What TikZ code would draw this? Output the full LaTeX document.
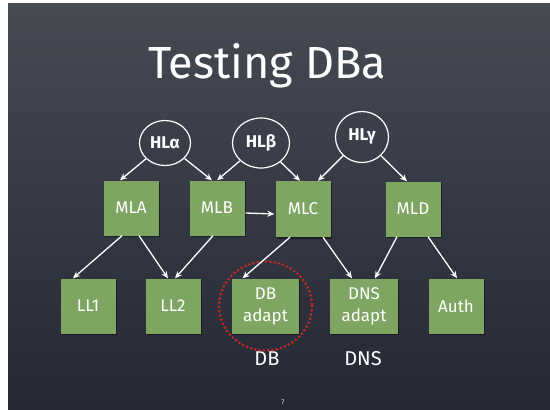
\documentclass[tikz,border=0pt]{standalone}
\usepackage{fontspec}
\setmainfont{Fira Sans}
\usetikzlibrary{shapes.geometric,arrows.meta,shadows}
\definecolor{boxgreen}{RGB}{126,166,98}
\definecolor{chalkred}{RGB}{192,42,36}
\definecolor{boardtop}{RGB}{70,74,83}
\definecolor{boardbot}{RGB}{36,40,52}
\tikzset{
  hl/.style={ellipse, draw=white, line width=1.2pt, text=white, inner sep=0pt, font=\fontsize{17}{17}\selectfont\bfseries},
  box/.style={rectangle, fill=boxgreen, text=white, minimum width=55pt, minimum height=55pt, inner sep=2pt, align=center,
    font=\fontsize{17}{17}\selectfont, drop shadow={shadow xshift=1pt, shadow yshift=-1.5pt, opacity=0.45, fill=black}},
  arr/.style={draw=white, line width=1.3pt, -{Stealth[length=7pt,width=6pt]}},
  lbl/.style={text=white, font=\fontsize{20}{20}\selectfont},
}
\begin{document}
\begin{tikzpicture}[x=1pt,y=-1pt]
\useasboundingbox (0,0) rectangle (550,410);
\shade[top color=boardtop, bottom color=boardbot] (8,3) rectangle (550,410);
\node[text=white, font=\fontsize{45}{45}\selectfont] (title) at (267,66) {Testing DBa};
% high level
\node[hl, minimum width=51pt, minimum height=45pt] (HLa) at (165,143) {HLα};
\node[hl, minimum width=57pt, minimum height=50pt] (HLb) at (261,143) {HLβ};
\node[hl, minimum width=53pt, minimum height=51pt] (HLg) at (362,137) {HLγ};
% mid level
\node[box] (MLA) at (131,208) {MLA};
\node[box] (MLB) at (217,208) {MLB};
\node[box, minimum height=56pt] (MLC) at (303,209) {MLC};
\node[box] (MLD) at (413,209) {MLD};
% low level
\node[box] (LL1) at (88,306) {LL1};
\node[box] (LL2) at (173,306) {LL2};
\node[box, minimum width=67pt] (DBA) at (265.5,306) {DB\\[5pt]adapt};
\node[box, minimum width=68pt] (DNSA) at (364,306) {DNS\\[5pt]adapt};
\node[box] (Auth) at (456,306) {Auth};
% labels
\node[lbl] (DB) at (267,359) {DB};
\node[lbl] (DNS) at (363,359) {DNS};
\node[text=white!80!gray, font=\fontsize{7}{7}\selectfont] (pg) at (283,402) {7};
% red dotted circle
\draw[chalkred, line width=3pt, line cap=round, dash pattern=on 0pt off 4.3pt] (DBA.center) ellipse [x radius=46.5, y radius=44.5];
% arrows top
\draw[arr] (HLa) -- ([xshift=-11pt]MLA.north);
\draw[arr] (HLa) -- ([xshift=-5pt]MLB.north);
\draw[arr] (HLb) -- ([xshift=0pt]MLB.north);
\draw[arr] (HLb) -- ([xshift=-3pt]MLC.north);
\draw[arr] (HLg) -- ([xshift=15pt]MLC.north);
\draw[arr] (HLg) -- ([xshift=-6pt]MLD.north);
\draw[arr] ([xshift=1pt,yshift=-5pt]MLB.east) -- ([xshift=-1pt,yshift=-5pt]MLC.west);
% arrows bottom
\draw[arr] ([xshift=-9pt]MLA.south) -- ([xshift=-15pt]LL1.north);
\draw[arr] ([xshift=8pt]MLA.south) -- ([xshift=-5pt]LL2.north);
\draw[arr] ([xshift=-4pt]MLB.south) -- ([xshift=2pt]LL2.north);
\draw[arr] ([xshift=-13pt]MLC.south) -- ([xshift=-23pt]DBA.north);
\draw[arr] ([xshift=20pt]MLC.south) -- ([xshift=-12pt]DNSA.north);
\draw[arr] ([xshift=-16pt]MLD.south) -- ([xshift=11pt]DNSA.north);
\draw[arr] ([xshift=15pt]MLD.south) -- ([xshift=1pt]Auth.north);
\end{tikzpicture}
\end{document}
